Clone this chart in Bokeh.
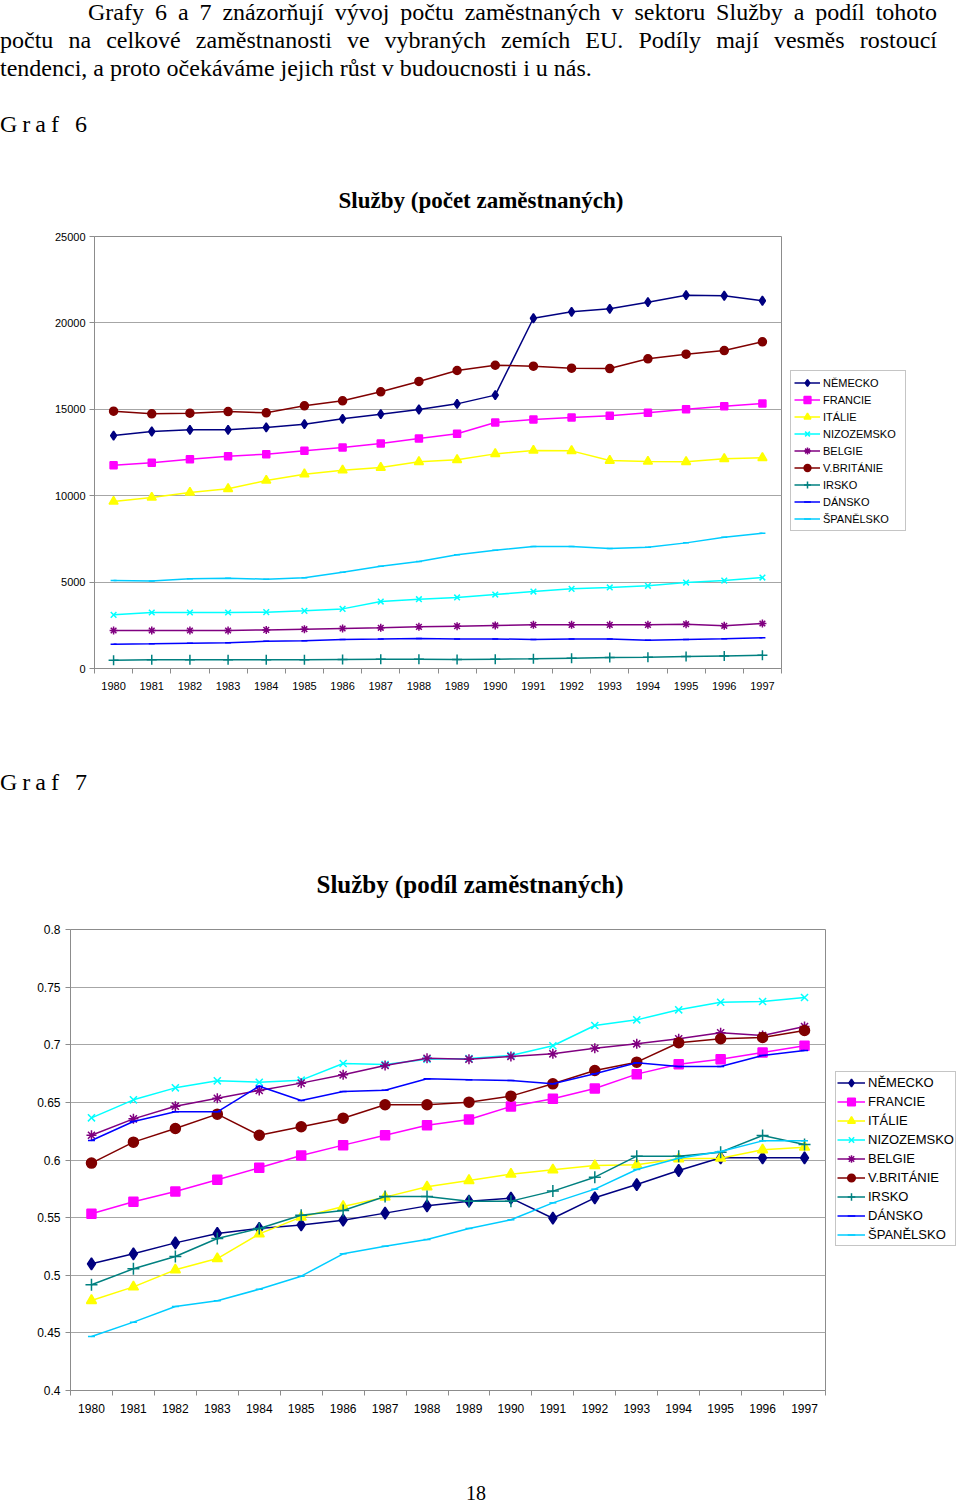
from bokeh.plotting import figure
from bokeh.models import (Range1d, FixedTicker, Legend, LegendItem, Div,
                          CustomJSTickFormatter, BasicTickFormatter)
from bokeh.layouts import column, row
from bokeh.embed import file_html
from bokeh.resources import INLINE

# ---------------- data ----------------
years = [1980, 1981, 1982, 1983, 1984, 1985, 1986, 1987, 1988,
         1989, 1990, 1991, 1992, 1993, 1994, 1995, 1996, 1997]
country_names = ["NĚMECKO", "FRANCIE", "ITÁLIE", "NIZOZEMSKO", "BELGIE",
                 "V.BRITÁNIE", "IRSKO", "DÁNSKO", "ŠPANĚLSKO"]

# Graf 6 - Služby (počet zaměstnaných)
nemecko1 = [13480, 13715, 13810, 13810, 13950, 14140, 14450, 14720, 14990,
            15315, 15820, 20270, 20640, 20815, 21200, 21605, 21570, 21280]
francie1 = [11765, 11900, 12110, 12285, 12400, 12595, 12790, 13020, 13310,
            13580, 14235, 14410, 14525, 14620, 14795, 15005, 15180, 15335]
italie1 = [9665, 9895, 10185, 10400, 10880, 11245, 11475, 11630, 11960,
           12075, 12420, 12615, 12595, 12035, 11980, 11960, 12135, 12190]
nizozemsko1 = [3105, 3240, 3240, 3240, 3260, 3335, 3450, 3875, 4010,
               4110, 4280, 4455, 4610, 4690, 4785, 4975, 5090, 5265]
belgie1 = [2200, 2200, 2200, 2200, 2235, 2275, 2315, 2355, 2410,
           2450, 2490, 2525, 2525, 2525, 2525, 2565, 2470, 2605]
britanie1 = [14890, 14740, 14775, 14870, 14795, 15200, 15490, 16010, 16610,
             17245, 17550, 17495, 17380, 17360, 17920, 18190, 18400, 18905]
irsko1 = [482, 500, 500, 500, 500, 500, 520, 540, 540,
          520, 540, 560, 600, 635, 655, 695, 730, 770]
dansko1 = [1408, 1430, 1465, 1485, 1580, 1600, 1680, 1700, 1735,
           1700, 1710, 1680, 1700, 1700, 1640, 1680, 1715, 1775]
spanelsko1 = [5090, 5070, 5190, 5230, 5170, 5250, 5575, 5920, 6190,
              6580, 6840, 7060, 7060, 6945, 7020, 7270, 7600, 7830]

# Graf 7 - Služby (podíl zaměstnaných)
nemecko2 = [0.5099, 0.5186, 0.5281, 0.5362, 0.5406, 0.5437, 0.5478, 0.5539, 0.5602,
            0.5643, 0.5669, 0.5495, 0.5672, 0.5787, 0.5909, 0.6019, 0.6019, 0.6019]
francie2 = [0.5533, 0.5637, 0.5727, 0.5828, 0.5932, 0.6039, 0.6129, 0.6215, 0.6302,
            0.6351, 0.6464, 0.6531, 0.6620, 0.6745, 0.6831, 0.6875, 0.6933, 0.6991]
italie2 = [0.4781, 0.4899, 0.5047, 0.5145, 0.5359, 0.5504, 0.5597, 0.5678, 0.5767,
           0.5822, 0.5877, 0.5915, 0.5952, 0.5958, 0.6010, 0.6016, 0.6088, 0.6111]
nizozemsko2 = [0.6366, 0.6522, 0.6626, 0.6687, 0.6675, 0.6693, 0.6837, 0.6829, 0.6875,
               0.6880, 0.6907, 0.6991, 0.7167, 0.7216, 0.7303, 0.7369, 0.7375, 0.7410]
belgie2 = [0.6215, 0.6357, 0.6467, 0.6536, 0.6603, 0.6667, 0.6739, 0.6820, 0.6883,
           0.6875, 0.6898, 0.6921, 0.6970, 0.7008, 0.7052, 0.7104, 0.7080, 0.7158]
britanie2 = [0.5973, 0.6155, 0.6273, 0.6398, 0.6215, 0.6288, 0.6363, 0.6479, 0.6479,
             0.6502, 0.6554, 0.6661, 0.6777, 0.6849, 0.7017, 0.7052, 0.7063, 0.7124]
irsko2 = [0.4917, 0.5056, 0.5163, 0.5319, 0.5406, 0.5521, 0.5562, 0.5683, 0.5683,
          0.5643, 0.5643, 0.5730, 0.5851, 0.6033, 0.6033, 0.6068, 0.6213, 0.6134]
dansko2 = [0.6169, 0.6334, 0.6418, 0.6418, 0.6640, 0.6516, 0.6594, 0.6606, 0.6705,
           0.6696, 0.6690, 0.6661, 0.6748, 0.6843, 0.6811, 0.6811, 0.6907, 0.6950]
spanelsko2 = [0.4469, 0.4593, 0.4729, 0.4778, 0.4879, 0.4992, 0.5186, 0.5252, 0.5310,
              0.5406, 0.5481, 0.5628, 0.5747, 0.5918, 0.6015, 0.6074, 0.6166, 0.6166]

y1_ticks = [0, 5000, 10000, 15000, 20000, 25000]
y2_ticks = [0.4, 0.45, 0.5, 0.55, 0.6, 0.65, 0.7, 0.75, 0.8]

series1 = [nemecko1, francie1, italie1, nizozemsko1, belgie1,
           britanie1, irsko1, dansko1, spanelsko1]
series2 = [nemecko2, francie2, italie2, nizozemsko2, belgie2,
           britanie2, irsko2, dansko2, spanelsko2]

# ---------------- styles ----------------
colors = ["#000080", "#FF00FF", "#FFFF00", "#00FFFF", "#800080",
          "#800000", "#008080", "#0000FF", "#00CCFF"]
markers = ["diamond", "square", "triangle", "x", "asterisk",
           "circle", "cross", "dash", "dash"]
sizes1 = [9, 7, 9, 8, 8, 8, 10, 6, 6]
sizes2 = [12, 9, 10, 10, 10, 10, 12, 7, 7]
GRAY = "#8c8c8c"
GRID = "#a6a6a6"
SANS = "Liberation Sans"
SERIF = "Liberation Serif"


def draw_series(p, series, sizes):
    out = []
    for name, vals, c, m, s in zip(country_names, series, colors, markers, sizes):
        ln = p.line(years, vals, line_color=c, line_width=1.5)
        sc = p.scatter(years, vals, marker=m, size=s, fill_color=c,
                       line_color=c, line_width=1.5)
        out.append(LegendItem(label=name, renderers=[ln, sc]))
    return out


def make_chart(title, series, sizes, y_lo, y_hi, y_ticks, chart_w, leg_w,
               height, b_left, b_top, b_bottom, frame_w, font_px, title_px,
               title_offset, title_standoff, leg_bottom, leg_pad, leg_font,
               leg_gw, leg_gh, leg_lw, y_formatter):
    p = figure(width=chart_w, height=height, output_backend="svg",
               toolbar_location=None,
               x_range=Range1d(1979.5, 1997.5), y_range=Range1d(y_lo, y_hi),
               min_border_left=b_left, min_border_top=b_top,
               min_border_right=chart_w - b_left - frame_w,
               min_border_bottom=b_bottom)
    p.background_fill_color = "white"
    p.border_fill_color = "white"
    p.outline_line_color = GRAY
    p.outline_line_width = 1

    p.title.text = title
    p.title.text_font = SERIF
    p.title.text_font_style = "bold"
    p.title.text_font_size = f"{title_px}px"
    p.title.align = "left"
    p.title.offset = title_offset
    p.title.standoff = title_standoff
    p.title.text_color = "black"

    xa = p.xaxis[0]
    xa.ticker = FixedTicker(ticks=years,
                            minor_ticks=[1979.5 + i for i in range(19)])
    xa.formatter = CustomJSTickFormatter(code="return tick.toFixed(0);")
    xa.major_tick_out = 0
    xa.major_tick_in = 0
    xa.minor_tick_out = 5
    xa.minor_tick_in = 0
    xa.minor_tick_line_color = GRAY
    xa.axis_line_color = GRAY
    xa.major_label_standoff = 8
    xa.major_label_text_font = SANS
    xa.major_label_text_font_size = f"{font_px}px"
    xa.major_label_text_color = "black"

    ya = p.yaxis[0]
    ya.ticker = FixedTicker(ticks=y_ticks, minor_ticks=[])
    ya.formatter = y_formatter
    ya.major_tick_out = 5
    ya.major_tick_in = 0
    ya.minor_tick_out = 0
    ya.minor_tick_in = 0
    ya.major_tick_line_color = GRAY
    ya.axis_line_color = GRAY
    ya.major_label_standoff = 4
    ya.major_label_text_font = SANS
    ya.major_label_text_font_size = f"{font_px}px"
    ya.major_label_text_color = "black"

    p.xgrid.visible = False
    p.ygrid.grid_line_color = GRID
    p.ygrid.grid_line_width = 1

    draw_series(p, series, sizes)

    # legend panel: a frame-less figure beside the chart, same vertical borders
    q = figure(width=leg_w, height=height, output_backend="svg",
               toolbar_location=None, x_axis_location=None,
               y_axis_location=None,
               x_range=Range1d(0, 1), y_range=Range1d(0, 1),
               min_border_left=0, min_border_right=0,
               min_border_top=b_top, min_border_bottom=b_bottom)
    q.outline_line_color = None
    q.background_fill_color = "white"
    q.border_fill_color = "white"
    q.grid.visible = False
    items = draw_series(q, series, sizes)

    leg = Legend(items=items, location=(0, leg_bottom))
    leg.border_line_color = GRAY
    leg.border_line_width = 1
    leg.background_fill_color = "white"
    leg.background_fill_alpha = 1.0
    leg.label_text_font = SANS
    leg.label_text_font_size = f"{leg_font}px"
    leg.label_text_color = "black"
    leg.glyph_width = leg_gw
    leg.glyph_height = leg_gh
    leg.label_height = leg_gh
    leg.label_width = leg_lw
    leg.label_standoff = 3
    leg.padding = leg_pad
    leg.spacing = 0
    leg.margin = 0
    q.add_layout(leg)
    return row(p, q, spacing=0, margin=0)


W = 958

chart1 = make_chart("Služby  (počet zaměstnaných)", series1, sizes1, 0, 25000,
                    y1_ticks, 790, W - 790, 575, 94, 91, 52, 687, 11, 23, 244, 47,
                    137, 3, 11, 26, 17, 79,
                    BasicTickFormatter(use_scientific=False))

chart2 = make_chart("Služby (podíl zaměstnaných)", series2, sizes2, 0.4, 0.8,
                    y2_ticks, 835, W - 835, 601, 70, 100, 40, 755, 12, 25, 246, 64,
                    144, 1, 13, 28, 19, 85,
                    CustomJSTickFormatter(
                        code="return (Math.round(tick*100)/100).toString();"))
chart2.children[0].yaxis[0].major_label_standoff = 5

para = (
    "<div style=\"font-family:'Liberation Serif'; font-size:24px; line-height:28px;"
    " color:#000; width:937px; margin-top:-2px;\">"
    "<div style=\"text-align:justify; text-align-last:justify; padding-left:88px;\">"
    "Grafy 6 a 7 znázorňují vývoj počtu zaměstnaných v sektoru Služby a podíl tohoto</div>"
    "<div style=\"text-align:justify; text-align-last:justify;\">"
    "počtu na celkové zaměstnanosti ve vybraných zemích EU. Podíly mají vesměs rostoucí</div>"
    "<div>tendenci, a proto očekáváme jejich růst v budoucnosti i u nás.</div>"
    "<div style=\"margin-top:28px; letter-spacing:5px;\">Graf 6</div>"
    "</div>"
)
divA = Div(text=para, width=W, height=145, margin=0)

divB = Div(text="<div style=\"font-family:'Liberation Serif'; font-size:24px; line-height:28px;"
                " color:#000; padding-top:48px; letter-spacing:5px;\">Graf 7</div>",
           width=W, height=109, margin=0)

divC = Div(text="<div style=\"font-family:'Liberation Serif'; font-size:20px; line-height:20px;"
                " color:#000; padding-top:53px; padding-left:466px;\">18</div>",
           width=W, height=73, margin=0)

page = column(divA, chart1, divB, chart2, divC, spacing=0, margin=0)

open("out.html", "w").write(file_html(page, INLINE))
